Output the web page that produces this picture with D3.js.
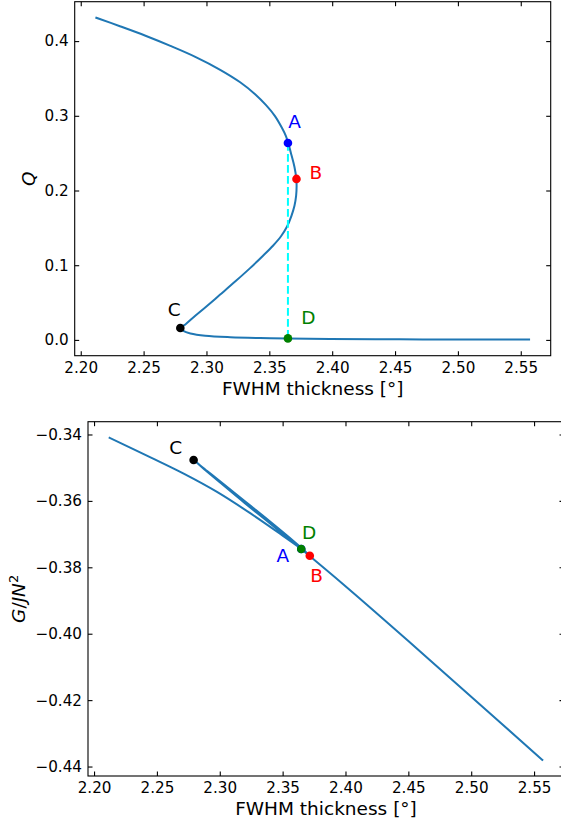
<!DOCTYPE html>
<html>
<head>
<meta charset="utf-8">
<script src="https://cdn.jsdelivr.net/npm/d3@7"></script>
<style>
  body { margin: 0; background: #fff; }
  svg { display: block; }
  text { font-family: "DejaVu Sans", sans-serif; fill: #000; }
</style>
</head>
<body>
<svg id="chart" width="561" height="825"></svg>
<script>
// ---- data ----
// Q vs thickness: upper branch -> middle (unstable) branch -> lower branch
const qThick = [2.2124, 2.2317, 2.2515, 2.2713, 2.2911, 2.3109, 2.3268, 2.3387, 2.3474, 2.3545,
  2.3601, 2.3632, 2.3651, 2.3676, 2.3700, 2.3714, 2.3717,
  2.3713, 2.3700, 2.3676, 2.3640, 2.3593, 2.3529, 2.3450, 2.3347, 2.3228, 2.3109, 2.2990,
  2.2895, 2.2832, 2.2792,
  2.2816, 2.2872, 2.2990, 2.3189, 2.3426, 2.3648, 2.3981, 2.4536, 2.5090, 2.5566];
const qVals = [0.4312, 0.4196, 0.4072, 0.3936, 0.3789, 0.3616, 0.3449, 0.3289, 0.3142, 0.2996,
  0.2836, 0.2729, 0.2631, 0.2475, 0.2315, 0.2168, 0.2061,
  0.1928, 0.1795, 0.1661, 0.1514, 0.1388, 0.1261, 0.1127, 0.0961, 0.0781, 0.0607, 0.0434,
  0.0300, 0.0207, 0.0160,
  0.0120, 0.0087, 0.0056, 0.0036, 0.0025, 0.0020, 0.0013, 0.0008, 0.0005, 0.0004];

// G/JN^2 vs thickness, same branch order
const gThick = [2.2124, 2.2449, 2.2713, 2.2978, 2.3242, 2.3506, 2.3651, 2.3717,
  2.3600, 2.3400, 2.3200, 2.3000, 2.2900, 2.2792,
  2.2900, 2.3000, 2.3200, 2.3400, 2.3648, 2.4000, 2.4500, 2.5000, 2.5566];
const gVals = [-0.3410, -0.3469, -0.3518, -0.3573, -0.3637, -0.3706, -0.3745, -0.3764,
  -0.3725, -0.3662, -0.3601, -0.3540, -0.3510, -0.3477,
  -0.3512, -0.3544, -0.3607, -0.3668, -0.3745, -0.3857, -0.4022, -0.4190, -0.4380];

const pointNames = ['A', 'B', 'C', 'D'];
const pointThick = [2.3648, 2.3716, 2.2792, 2.3648];
const pointQ = [0.2635, 0.2155, 0.0160, 0.0020];
const pointG = [-0.3745, -0.3765, -0.3477, -0.3745];

const xTicks = [2.20, 2.25, 2.30, 2.35, 2.40, 2.45, 2.50, 2.55];
const qTicks = [0.0, 0.1, 0.2, 0.3, 0.4];
const gTicks = [-0.34, -0.36, -0.38, -0.40, -0.42, -0.44];

// ---- styling ----
const pointColors = { A: '#0000ff', B: '#ff0000', C: '#000000', D: '#008000' };
const lineColor = '#1f77b4';

const svg = d3.select('#chart');

// matplotlib-like 5% margins around the data
function padded(vals) {
  const [lo, hi] = d3.extent(vals);
  const p = (hi - lo) * 0.05;
  return [lo - p, hi + p];
}

function drawPanel(cfg) {
  const { left, right, top, bottom } = cfg.box;
  const x = d3.scaleLinear().domain(padded(cfg.xs)).range([left, right]);
  const y = d3.scaleLinear().domain(padded(cfg.ys)).range([bottom, top]);
  const g = svg.append('g');

  const tick = 4.5;
  const fontTick = '15.2px';

  // axes (ticks pointing in, all four sides)
  const axB = g.append('g').attr('transform', `translate(0,${bottom})`)
    .call(d3.axisBottom(x).tickValues(xTicks).tickFormat(d3.format('.2f'))
      .tickSizeInner(-tick).tickSizeOuter(0).tickPadding(6.6));
  const axT = g.append('g').attr('transform', `translate(0,${top})`)
    .call(d3.axisTop(x).tickValues(xTicks).tickFormat('')
      .tickSizeInner(-tick).tickSizeOuter(0));
  const axL = g.append('g').attr('transform', `translate(${left},0)`)
    .call(d3.axisLeft(y).tickValues(cfg.yTicks).tickFormat(d3.format(cfg.yFmt))
      .tickSizeInner(-tick).tickSizeOuter(0).tickPadding(6));
  const axR = g.append('g').attr('transform', `translate(${right},0)`)
    .call(d3.axisRight(y).tickValues(cfg.yTicks).tickFormat('')
      .tickSizeInner(-tick).tickSizeOuter(0));

  [axB, axT, axL, axR].forEach(a => {
    a.select('.domain').remove();
    a.selectAll('line').attr('stroke', '#000').attr('stroke-width', 1.1);
    a.selectAll('text').attr('font-size', fontTick)
      .attr('font-family', '"DejaVu Sans", sans-serif').attr('fill', '#000');
  });

  // curve
  const line = d3.line()
    .x(d => x(d[0]))
    .y(d => y(d[1]))
    .curve(d3.curveCatmullRom.alpha(0.5));
  const pts = cfg.xs.map((v, i) => [v, cfg.ys[i]]);
  g.append('path')
    .attr('d', line(pts))
    .attr('fill', 'none')
    .attr('stroke', lineColor)
    .attr('stroke-width', 2)
    .attr('stroke-linejoin', 'round')
    .attr('stroke-linecap', 'square');

  if (cfg.dashed) {
    const ia = pointNames.indexOf('A');
    const id = pointNames.indexOf('D');
    g.append('line')
      .attr('x1', x(pointThick[ia])).attr('y1', y(cfg.py[ia]))
      .attr('x2', x(pointThick[id])).attr('y2', y(cfg.py[id]))
      .attr('stroke', '#00ffff')
      .attr('stroke-width', 2)
      .attr('stroke-dasharray', '7.7,3.3');
  }

  // marked points
  pointNames.forEach((name, i) => {
    const cx = x(pointThick[i]);
    const cy = y(cfg.py[i]);
    g.append('circle')
      .attr('cx', cx).attr('cy', cy).attr('r', 4.3)
      .attr('fill', pointColors[name]);
    const off = cfg.labelOffsets[name];
    g.append('text')
      .attr('x', cx + off[0]).attr('y', cy + off[1])
      .attr('dy', '0.36em')
      .attr('text-anchor', 'middle')
      .attr('font-size', '18.5px')
      .style('fill', pointColors[name])
      .text(name);
  });

  // frame
  g.append('rect')
    .attr('x', left).attr('y', top)
    .attr('width', right - left).attr('height', bottom - top)
    .attr('fill', 'none').attr('stroke', '#000').attr('stroke-width', 1.1);

  // x label
  g.append('text')
    .attr('x', (left + right) / 2).attr('y', bottom + 39.3)
    .attr('text-anchor', 'middle')
    .attr('font-size', '18.5px')
    .text('FWHM thickness [°]');

  // y label
  const yl = g.append('text')
    .attr('transform', `translate(${cfg.yLabelX},${(top + bottom) / 2}) rotate(-90)`)
    .attr('text-anchor', 'middle')
    .attr('font-size', '18.5px');
  cfg.yLabel(yl);
}

drawPanel({
  box: { left: 74.7, right: 550.7, top: 1.7, bottom: 355.7 },
  xs: qThick, ys: qVals, py: pointQ,
  yTicks: qTicks, yFmt: '.1f',
  dashed: true,
  labelOffsets: { A: [6.7, -21.3], B: [19.3, -7], C: [-6, -19], D: [20.4, -21] },
  yLabelX: 35,
  yLabel: t => t.append('tspan').attr('font-style', 'italic').text('Q')
});

drawPanel({
  box: { left: 88, right: 564, top: 421.7, bottom: 776 },
  xs: gThick, ys: gVals, py: pointG,
  yTicks: gTicks, yFmt: '.2f',
  dashed: false,
  labelOffsets: { A: [-18.4, 6.5], B: [6.8, 20], C: [-17.8, -13], D: [7.8, -16.3] },
  yLabelX: 24.5,
  yLabel: t => {
    t.append('tspan').attr('font-style', 'italic').text('G');
    t.append('tspan').text('/');
    t.append('tspan').attr('font-style', 'italic').text('JN');
    t.append('tspan').attr('font-size', '13px').attr('dy', '-7').text('2');
  }
});
</script>
</body>
</html>
